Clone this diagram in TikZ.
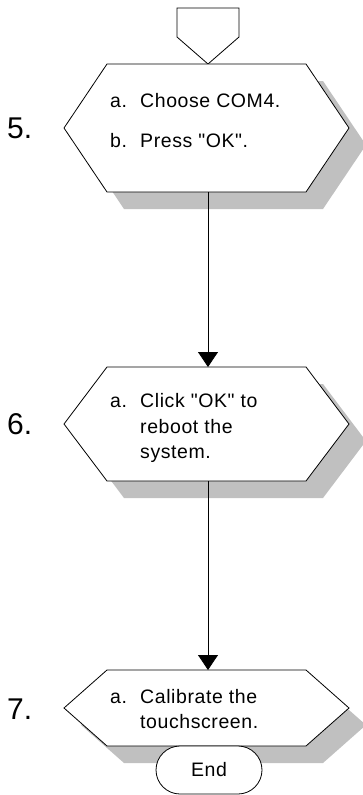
\documentclass[tikz,border=0pt]{standalone}
\usepackage{fontspec}
\setmainfont{Liberation Sans}
\newfontfamily\lsans{Liberation Sans}[LetterSpace=3]
\newfontfamily\nsans{Liberation Sans}
\usetikzlibrary{shapes.misc,arrows.meta}
\definecolor{shadowgray}{HTML}{C0C0C0}
\newcommand\hexshape[4]{\path[#4] (#1-143,#2) -- (#1-100,#2-#3) -- (#1+99,#2-#3) -- (#1+142,#2) -- (#1+99,#2+#3) -- (#1-100,#2+#3) -- cycle;}
\tikzset{
  outline/.style={draw=black, line width=0.8pt, fill=white},
  shadowfill/.style={fill=shadowgray, draw=none},
  steptext/.style={anchor=base west, inner sep=0, font=\lsans\fontsize{19.5}{24}\selectfont},
  stepnum/.style={anchor=west, inner sep=0, font=\nsans\fontsize{30}{34}\selectfont},
  flowarrow/.style={draw, line width=0.8pt, -{Triangle[length=15pt,width=20pt]}},
  hexanchor/.style={draw=none, inner sep=0, outer sep=0, minimum width=285pt},
  terminal/.style={rounded rectangle, draw, fill=white, line width=0.8pt, minimum width=106pt, minimum height=48pt, inner sep=0, font=\lsans\fontsize{19.5}{24}\selectfont}
}
\begin{document}
\begin{tikzpicture}[x=1pt,y=-1pt]
\useasboundingbox (0,0) rectangle (363,795);
% off-page connector
\node[hexanchor, minimum width=62pt, minimum height=56pt] (conn) at (208,36) {};
\draw[line width=0.8pt, fill=white] (177,8) -- (239,8) -- (239,37) -- (208,64) -- (177,37) -- cycle;
% shadows
\hexshape{207+17}{128+17}{64}{shadowfill}
\hexshape{207+17}{424+17}{57}{shadowfill}
\hexshape{207+17}{708+17}{38}{shadowfill}
% hexagons
\hexshape{207}{128}{64}{outline}
\hexshape{207}{424}{57}{outline}
\hexshape{207}{708}{38}{outline}
\node[hexanchor, minimum height=128pt] (s5) at (208,128) {};
\node[hexanchor, minimum height=114pt] (s6) at (208,424) {};
\node[hexanchor, minimum height=76pt] (s7) at (208,708) {};
% step numbers
\node[stepnum] (n5) at (7,128) {5.};
\node[stepnum] (n6) at (7,424) {6.};
\node[stepnum] (n7) at (7,709) {7.};
% texts
\node[steptext] (t5a) at (110,107) {\makebox[30pt][l]{a.}Choose COM4.};
\node[steptext] (t5b) at (110,147) {\makebox[30pt][l]{b.}Press "OK".};
\node[steptext] (t6a) at (110,407) {\makebox[30pt][l]{a.}Click "OK" to};
\node[steptext] (t6b) at (140,433) {reboot the};
\node[steptext] (t6c) at (140,458) {system.};
\node[steptext] (t7a) at (110,703) {\makebox[30pt][l]{a.}Calibrate the};
\node[steptext] (t7b) at (140,728) {touchscreen.};
% end
\node[terminal] (end) at (209,770) {End};
% connectors
\path[flowarrow] (s5.south) -- (s6.north);
\path[flowarrow] (s6.south) -- (s7.north);
\end{tikzpicture}
\end{document}
